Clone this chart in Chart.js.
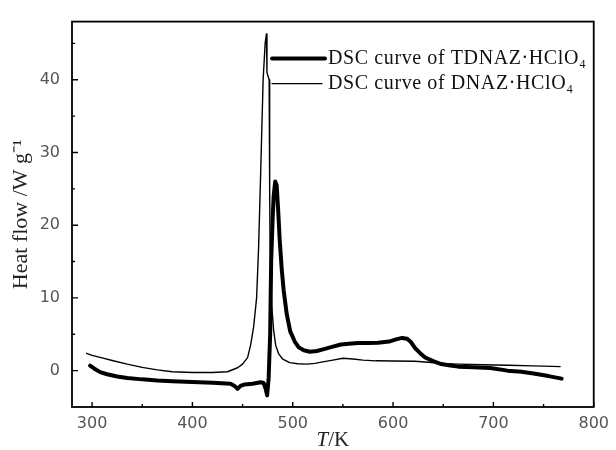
<!DOCTYPE html>
<html>
<head>
<meta charset="utf-8">
<script src="https://cdn.jsdelivr.net/npm/chart.js@4.4.1/dist/chart.umd.min.js"></script>
<style>
  html, body { margin: 0; padding: 0; background: #fff; }
  #wrap { width: 616px; height: 450px; }
</style>
</head>
<body>
<div id="wrap"><canvas id="c" width="616" height="450"></canvas></div>
<script>
// ---- Data ----
const labelTDNAZ = 'DSC curve of TDNAZ\u00B7HClO\u2084';
const labelDNAZ  = 'DSC curve of DNAZ\u00B7HClO\u2084';
const xTitleItalic = 'T';
const xTitleRest = '/K';
const yTitle = 'Heat flow /W g\u207B\u00B9';

// DSC curve of TDNAZ·HClO4 (thick line): temperature (K) and heat flow (W/g)
const tdnazT = [298, 302, 308, 315, 325, 335, 350, 365, 380, 400, 420, 438, 442, 445, 448, 452, 460, 468, 471, 473, 474.5, 476, 477.5, 478.5, 480, 481, 482.5, 484, 485.5, 487, 489, 491, 494, 497.5, 502, 506, 511, 517, 524, 532, 540, 548, 556, 565, 575, 585, 596, 603, 609, 614, 618, 622, 627, 632, 640, 648, 657, 665, 680, 697, 714, 728, 740, 755, 768];
const tdnazV = [0.7, 0.3, -0.2, -0.5, -0.8, -1.0, -1.2, -1.35, -1.45, -1.55, -1.65, -1.8, -2.1, -2.5, -2.1, -1.9, -1.8, -1.6, -1.7, -2.5, -3.4, -1.0, 5, 15, 21, 24, 26, 25.5, 22, 18, 14, 11, 7.8, 5.4, 4.0, 3.2, 2.8, 2.6, 2.7, 3.0, 3.3, 3.6, 3.7, 3.8, 3.8, 3.85, 4.0, 4.3, 4.5, 4.4, 3.9, 3.1, 2.4, 1.8, 1.3, 0.9, 0.7, 0.55, 0.45, 0.35, 0.0, -0.15, -0.4, -0.75, -1.1];

// DSC curve of DNAZ·HClO4 (thin line)
const dnazT = [294, 300, 310, 320, 335, 350, 365, 380, 400, 420, 435, 445, 450, 455, 458, 461, 464, 466, 468, 470.5, 472.5, 473.8, 474.3, 476.5, 477, 477.4, 479, 481, 483, 486, 490, 497, 505, 514, 522, 530, 540, 550, 560, 570, 583, 600, 622, 635, 648, 665, 690, 715, 740, 767];
const dnazV = [2.4, 2.1, 1.75, 1.4, 0.9, 0.45, 0.1, -0.15, -0.25, -0.25, -0.15, 0.4, 0.9, 1.8, 3.5, 6, 10, 17, 27, 40, 45, 46.3, 41, 40, 25, 17, 9, 5.5, 3.5, 2.3, 1.6, 1.1, 0.95, 0.9, 1.0, 1.2, 1.45, 1.7, 1.6, 1.45, 1.35, 1.33, 1.3, 1.15, 1.0, 0.9, 0.8, 0.75, 0.65, 0.55];

// Axis ranges and ticks
const xMin = 280, xMax = 800, xMajor = [300, 400, 500, 600, 700, 800], xMinor = [350, 450, 550, 650, 750];
const yMin = -5, yMax = 48, yMajor = [0, 10, 20, 30, 40], yMinor = [5, 15, 25, 35, 45];

const toPts = (xs, ys) => xs.map((x, i) => ({ x: x, y: ys[i] }));

// ---- Frame, inward ticks, x title and legend ----
const framePlugin = {
  id: 'frame',
  afterDraw(chart) {
    const { ctx, chartArea: a, scales: { x, y } } = chart;
    ctx.save();
    ctx.strokeStyle = '#000';
    ctx.lineWidth = 1.8;
    ctx.strokeRect(a.left, a.top, a.right - a.left, a.bottom - a.top);
    ctx.lineWidth = 1.4;
    ctx.beginPath();
    xMajor.forEach(v => { const p = x.getPixelForValue(v); ctx.moveTo(p, a.bottom); ctx.lineTo(p, a.bottom - 5); });
    xMinor.forEach(v => { const p = x.getPixelForValue(v); ctx.moveTo(p, a.bottom); ctx.lineTo(p, a.bottom - 3); });
    yMajor.forEach(v => { const p = y.getPixelForValue(v); ctx.moveTo(a.left, p); ctx.lineTo(a.left + 6, p); });
    yMinor.forEach(v => { const p = y.getPixelForValue(v); ctx.moveTo(a.left, p); ctx.lineTo(a.left + 3, p); });
    ctx.stroke();

    // x axis title: italic T, upright /K
    ctx.fillStyle = '#222';
    ctx.textBaseline = 'middle';
    ctx.textAlign = 'left';
    const fI = 'italic 21px "Liberation Serif", serif';
    const fN = '21px "Liberation Serif", serif';
    ctx.font = fI; const wI = ctx.measureText(xTitleItalic).width;
    ctx.font = fN; const wN = ctx.measureText(xTitleRest).width;
    const cx = (a.left + a.right) / 2 - (wI + wN) / 2;
    const ty = x.bottom - 10;
    ctx.font = fI; ctx.fillText(xTitleItalic, cx, ty);
    ctx.font = fN; ctx.fillText(xTitleRest, cx + wI, ty);

    // legend
    const lx = a.left + 200, ly = a.top + 37;
    chart.data.datasets.forEach((ds, i) => {
      const yy = ly + i * 25;
      ctx.beginPath();
      ctx.lineWidth = ds.borderWidth;
      ctx.strokeStyle = ds.borderColor;
      ctx.lineCap = 'round';
      ctx.moveTo(lx, yy);
      ctx.lineTo(lx + (i === 0 ? 53 : 50), yy);
      ctx.stroke();
      ctx.fillStyle = '#111';
      ctx.font = '20px "Liberation Serif", "Times New Roman", serif';
      ctx.textBaseline = 'middle';
      ctx.textAlign = 'left';
      try { ctx.letterSpacing = '0.6px'; } catch (e) {}
      ctx.fillText(ds.label, lx + 56, yy);
      try { ctx.letterSpacing = '0px'; } catch (e) {}
    });
    ctx.restore();
  }
};

new Chart(document.getElementById('c'), {
  type: 'line',
  data: {
    datasets: [
      { label: labelTDNAZ, data: toPts(tdnazT, tdnazV), borderColor: '#000', borderWidth: 4, borderJoinStyle: 'round', borderCapStyle: 'round', pointRadius: 0, tension: 0, fill: false },
      { label: labelDNAZ, data: toPts(dnazT, dnazV), borderColor: '#000', borderWidth: 1.4, borderJoinStyle: 'round', pointRadius: 0, tension: 0, fill: false }
    ]
  },
  options: {
    responsive: false,
    animation: false,
    devicePixelRatio: 1,
    layout: { padding: { left: 0, top: 12, right: 16, bottom: 0 } },
    plugins: { legend: { display: false }, tooltip: { enabled: false } },
    scales: {
      x: {
        type: 'linear', min: xMin, max: xMax,
        afterBuildTicks: s => { s.ticks = xMajor.map(v => ({ value: v })); },
        afterFit: s => { s.height = 43; },
        grid: { display: false, drawTicks: false },
        border: { display: false },
        ticks: { padding: 7, color: '#555', font: { family: '"DejaVu Sans", sans-serif', size: 16 } },
        title: { display: false }
      },
      y: {
        type: 'linear', min: yMin, max: yMax,
        afterBuildTicks: s => { s.ticks = yMajor.map(v => ({ value: v })); },
        afterFit: s => { s.width = 72; },
        grid: { display: false, drawTicks: false },
        border: { display: false },
        ticks: { padding: 12, color: '#555', font: { family: '"DejaVu Sans", sans-serif', size: 16 } },
        title: { display: true, text: yTitle, color: '#222', padding: { top: 10, bottom: 0 },
                 font: { family: '"Liberation Serif", serif', size: 22, lineHeight: 1 } }
      }
    }
  },
  plugins: [framePlugin]
});
</script>
</body>
</html>
